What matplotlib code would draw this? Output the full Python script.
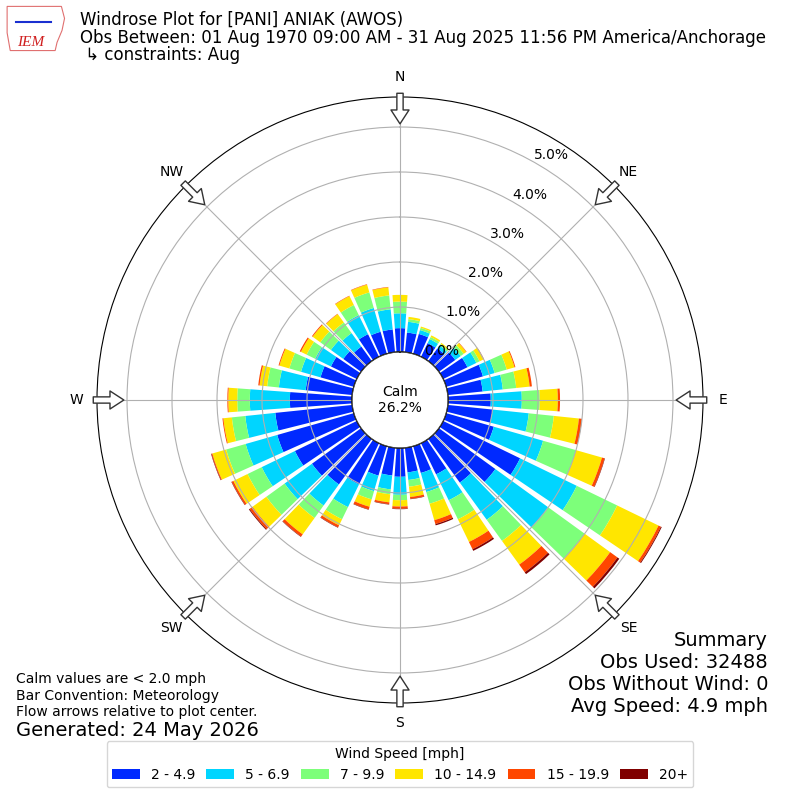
import numpy as np
import matplotlib
matplotlib.use("Agg")
import matplotlib.pyplot as plt
from matplotlib.patches import Circle, Polygon

# direction bins (deg, meteorological) and percent frequency per speed bin
directions = np.arange(0, 360, 10)
speed_labels = ["2 - 4.9", "5 - 6.9", "7 - 9.9", "10 - 14.9", "15 - 19.9", "20+"]
spd_2_5 = [0.53, 0.44, 0.46, 0.34, 0.35, 0.45, 0.60, 0.85, 0.78, 0.95, 1.00, 1.10,
           1.90, 1.55, 1.20, 0.77, 0.62, 0.55, 0.64, 0.62, 0.68, 1.02, 1.25, 1.35,
           1.53, 1.77, 1.72, 1.38, 1.04, 0.77, 0.64, 0.49, 0.40, 0.56, 0.51, 0.51]
spd_5_7 = [0.33, 0.24, 0.09, 0.10, 0.08, 0.15, 0.22, 0.27, 0.45, 0.69, 0.81, 1.14,
           1.40, 1.45, 1.02, 0.64, 0.44, 0.17, 0.40, 0.31, 0.36, 0.56, 0.58, 0.75,
           0.82, 0.73, 0.67, 0.89, 0.60, 0.45, 0.39, 0.34, 0.37, 0.47, 0.55, 0.45]
spd_7_10 = [0.26, 0.06, 0.05, 0.05, 0.04, 0.08, 0.08, 0.28, 0.30, 0.40, 0.56, 0.76,
            1.00, 1.00, 0.58, 0.47, 0.27, 0.15, 0.12, 0.11, 0.19, 0.30, 0.34, 0.50,
            0.35, 0.45, 0.30, 0.28, 0.26, 0.27, 0.21, 0.29, 0.29, 0.25, 0.36, 0.31]
spd_10_15 = [0.15, 0.05, 0.03, 0.04, 0.03, 0.07, 0.10, 0.18, 0.30, 0.40, 0.56, 0.60,
             1.02, 0.70, 0.65, 0.56, 0.38, 0.23, 0.14, 0.18, 0.17, 0.15, 0.45, 0.38,
             0.35, 0.32, 0.19, 0.20, 0.17, 0.23, 0.14, 0.21, 0.23, 0.22, 0.18, 0.18]
spd_15_20 = [0.0, 0.0, 0.0, 0.0, 0.0, 0.01, 0.01, 0.02, 0.05, 0.05, 0.07, 0.06,
             0.06, 0.20, 0.21, 0.18, 0.09, 0.04, 0.05, 0.04, 0.06, 0.05, 0.06, 0.08,
             0.04, 0.02, 0.02, 0.02, 0.03, 0.02, 0.03, 0.02, 0.01, 0.01, 0.01, 0.01]
spd_20p = [0.0, 0.0, 0.0, 0.0, 0.0, 0.0, 0.0, 0.0, 0.0, 0.0, 0.0, 0.01,
           0.02, 0.05, 0.05, 0.04, 0.03, 0.01, 0.01, 0.01, 0.01, 0.01, 0.01, 0.02,
           0.01, 0.01, 0.0, 0.0, 0.0, 0.0, 0.0, 0.0, 0.0, 0.0, 0.0, 0.0]
calm_pct = 26.2
ring_values = [0, 1, 2, 3, 4, 5]
compass = ["N", "NE", "E", "SE", "S", "SW", "W", "NW"]

bins = [spd_2_5, spd_5_7, spd_7_10, spd_10_15, spd_15_20, spd_20p]
colors = plt.cm.jet(np.arange(1, 7) / 6.0)

fig = plt.figure(figsize=(8, 8), dpi=100)
ax = fig.add_axes([0.12125, 0.12125, 0.7575, 0.7575], projection="polar")
ax.set_theta_zero_location("N")
ax.set_theta_direction(-1)

rmax = 5.667
ax.set_ylim(0, rmax)
ax.set_rorigin(-48 / 45.0)

theta = np.deg2rad(directions)
width = np.deg2rad(8.2)
bottom = np.zeros(len(directions))
for vals, col, lab in zip(bins, colors, speed_labels):
    vals = np.array(vals)
    ax.bar(theta, vals, width=width, bottom=bottom, color=col, label=lab,
           linewidth=0, zorder=2)
    bottom = bottom + vals

ax.set_axisbelow(False)
ax.grid(True, color="#b0b0b0", lw=0.8, zorder=3)
ax.set_yticks(ring_values)
ax.set_yticklabels(["%.1f%%" % v for v in ring_values], fontsize=10)
ax.set_rlabel_position(29.5)
ax.set_thetagrids(np.arange(0, 360, 45), compass, fontsize=10)
ax.tick_params(axis="x", pad=4)

# calm circle
ax.add_patch(Circle((0.5, 0.5), 48 / 606.0, transform=ax.transAxes,
                    facecolor="white", edgecolor="black", lw=1, zorder=5))
ax.text(0.5, 0.5, "Calm\n%.1f%%" % calm_pct, transform=ax.transAxes,
        ha="center", va="center", fontsize=10, zorder=6)

# flow arrows pointing toward center
for d in np.arange(0, 360, 45):
    ax.annotate("", xy=(np.deg2rad(d), 5.07), xytext=(np.deg2rad(d), 5.75),
                arrowprops=dict(facecolor="white", edgecolor="#333333", lw=1,
                                width=4.5, headwidth=13, headlength=10, shrink=0),
                annotation_clip=False, zorder=6)

# header
fig.text(0.1, 1 - 20 / 800, "Windrose Plot for [PANI] ANIAK (AWOS)",
         fontsize=12, va="center")
fig.text(0.1, 1 - 38 / 800,
         "Obs Between: 01 Aug 1970 09:00 AM - 31 Aug 2025 11:56 PM America/Anchorage",
         fontsize=12, va="center")
fig.text(0.1, 1 - 55 / 800, " \u21b3 constraints: Aug", fontsize=12, va="center")

# crude IEM logo
logo = fig.add_axes([0.005, 0.935, 0.078, 0.06])
logo.axis("off")
logo.set_xlim(0, 1)
logo.set_ylim(0, 1)
logo.add_patch(Polygon([[0.05, 0.95], [0.92, 0.95], [0.97, 0.7], [0.93, 0.45],
                        [0.85, 0.2], [0.82, 0.03], [0.1, 0.03], [0.05, 0.4]],
                       closed=True, fill=False, edgecolor="#e07070", lw=0.8))
logo.plot([0.2, 0.75], [0.62, 0.62], color="#1a2fd0", lw=1.5)
logo.text(0.42, 0.2, "IEM", color="#d02020", fontsize=11, family="Liberation Serif",
          style="italic", ha="center", va="center")

# footer left
fig.text(0.02, 1 - 679 / 800, "Calm values are < 2.0 mph", fontsize=10, va="center")
fig.text(0.02, 1 - 696 / 800, "Bar Convention: Meteorology", fontsize=10, va="center")
fig.text(0.02, 1 - 712 / 800, "Flow arrows relative to plot center.", fontsize=10,
         va="center")
fig.text(0.02, 1 - 730 / 800, "Generated: 24 May 2026", fontsize=14, va="center")

# summary right
summary = ["Summary", "Obs Used: 32488", "Obs Without Wind: 0", "Avg Speed: 4.9 mph"]
for i, line in enumerate(summary):
    fig.text(0.96, 1 - (640 + 22 * i) / 800, line, fontsize=14, ha="right",
             va="center")

handles, labels = ax.get_legend_handles_labels()
fig.legend(handles, labels, loc="lower center", bbox_to_anchor=(0.5, 0.007), ncol=6,
           title="Wind Speed [mph]", fontsize=10, title_fontsize=10,
           handlelength=2.0, columnspacing=0.8)

fig.savefig("out.png", dpi=100)
